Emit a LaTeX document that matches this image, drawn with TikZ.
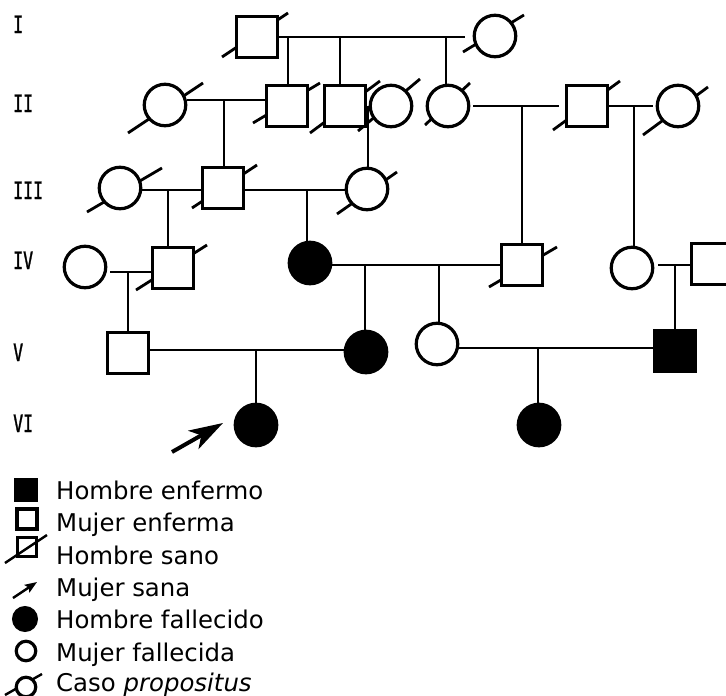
\documentclass[tikz,border=0pt]{standalone}
\usepackage{fontspec}
\setmainfont{DejaVu Sans}
\newfontfamily\labfont[FakeStretch=0.69,FakeBold=1.2]{DejaVu Sans Mono}
\usetikzlibrary{arrows.meta,backgrounds,calc}
\begin{document}
\begin{tikzpicture}[x=1pt,y=-1pt,
  male/.style={rectangle, draw, line width=3.2pt, fill=white, minimum size=41pt, inner sep=0pt},
  female/.style={circle, draw, line width=3.2pt, fill=white, minimum size=41.5pt, inner sep=0pt},
  aff/.style={fill=black},
  link/.style={line width=2.8pt},
  slash/.style={line width=2.8pt},
  gen/.style={font=\labfont\fontsize{24}{24}\selectfont, anchor=base west, inner sep=0pt},
  leg/.style={font=\fontsize{24.4}{28}\selectfont, anchor=base west, inner sep=0pt},
]
\useasboundingbox (0,0) rectangle (726,696);
\clip (0,0) rectangle (726,696);

% generation labels
\node[gen] (gI)   at (13,33)  {I};
\node[gen] (gII)  at (13,112) {II};
\node[gen] (gIII) at (13,199) {III};
\node[gen] (gIV)  at (13,269) {IV};
\node[gen] (gV)   at (13,361) {V};
\node[gen] (gVI)  at (13,432) {VI};

% individuals
\node[male]   (I1)  at (257,37)  {};
\node[female] (I2)  at (495,36)  {};

\node[female] (II1) at (165,105) {};
\node[male]   (II3) at (287,106) {};
\node[male]   (II4) at (345,106) {};
\node[female] (II5) at (391,106) {};
\node[female] (II6) at (448,106) {};
\node[male]   (II7) at (587,106) {};
\node[female] (II8) at (678,106) {};

\node[female] (III1) at (120,188) {};
\node[male]   (III2) at (223,188) {};
\node[female] (III3) at (367,189) {};

\node[female]     (IV1) at (85,267)  {};
\node[male]       (IV2) at (173,268) {};
\node[female,aff] (IV3) at (310,263) {};
\node[male]       (IV4) at (522,265) {};
\node[female]     (IV5) at (632,268) {};
\node[male]       (IV6) at (712,264) {};

\node[male]       (V1) at (128,353) {};
\node[female,aff] (V2) at (366,352) {};
\node[female]     (V3) at (437,344) {};
\node[male,aff]   (V5) at (675,351) {};

\node[female,aff] (VI1) at (256,425) {};
\node[female,aff] (VI2) at (539,425) {};

% deceased slashes (behind the symbols)
\begin{scope}[on background layer]
  \draw[slash] ($(I1)+(-35,20)$) -- ($(I1)+(31,-24)$);
  \draw[slash] ($(I2)+(-32,16)$) -- ($(I2)+(29,-21)$);
  \draw[slash] ($(II1)+(-37,28)$) -- ($(II1)+(38,-22)$);
  \draw[slash] ($(II3)+(-34,17)$) -- ($(II3)+(33,-23)$);
  \draw[slash] ($(II4)+(-35,27)$) -- ($(II4)+(35,-25)$);
  \draw[slash] ($(II5)+(-33,25)$) -- ($(II5)+(29,-27)$);
  \draw[slash] ($(II6)+(-23,19)$) -- ($(II6)+(22,-23)$);
  \draw[slash] ($(II7)+(-34,24)$) -- ($(II7)+(33,-25)$);
  \draw[slash] ($(II8)+(-35,29)$) -- ($(II8)+(30,-19)$);
  \draw[slash] ($(III1)+(-33,24)$) -- ($(III1)+(42,-20)$);
  \draw[slash] ($(III2)+(-31,20)$) -- ($(III2)+(34,-23)$);
  \draw[slash] ($(III3)+(-30,25)$) -- ($(III3)+(30,-17)$);
  \draw[slash] ($(IV2)+(-37,22)$) -- ($(IV2)+(34,-23)$);
  \draw[slash] ($(IV4)+(-33,22)$) -- ($(IV4)+(35,-18)$);
\end{scope}

% generation I family
\draw[link, shorten >=8pt] (I1.east) -- (I1.east -| I2.west);
\draw[link] ([xshift=1pt]II3.north |- I1.east) -- ([xshift=1pt]II3.north);
\draw[link] ([xshift=-5pt]II4.north |- I1.east) -- ([xshift=-5pt]II4.north);
\draw[link] ([xshift=-2pt]II6.north |- I1.east) -- ([xshift=-2pt]II6.north);

% generation II couples
\coordinate (m2a) at (224,100);
\draw[link] (II1.east |- m2a) -- (II3.west |- m2a);
\draw[link] (m2a) -- (m2a |- III2.north);
\coordinate (m2b) at (368,106);
\draw[link] (m2b) -- (m2b |- III3.north);
\draw[link, shorten <=3pt, shorten >=6pt] (II6.east) -- (II7.west);
\coordinate (m2c) at (522,106);
\draw[link] (m2c) -- (m2c |- IV4.north);
\draw[link, shorten >=3pt] (II7.east) -- (II8.west);
\coordinate (m2d) at (634,106);
\draw[link] (m2d) -- (m2d |- IV5.north);

% generation III couples
\coordinate (m3a) at (168,190);
\draw[link] (III1.east |- m3a) -- (III2.west |- m3a);
\draw[link] (m3a) -- (m3a |- IV2.north);
\coordinate (m3b) at (307,190);
\draw[link] (III2.east |- m3b) -- (III3.west |- m3b);
\draw[link] (m3b) -- (m3b |- IV3.north);

% generation IV couples
\coordinate (m4a) at (128,272);
\draw[link, shorten <=3pt] (IV1.east |- m4a) -- (IV2.west |- m4a);
\draw[link] (m4a) -- (m4a |- V1.north);
\coordinate (m4b) at (365,265);
\coordinate (m4c) at (439,265);
\draw[link] (IV3.east |- m4b) -- (IV4.west |- m4b);
\draw[link] (m4b) -- (m4b |- V2.north);
\draw[link] (m4c) -- (m4c |- V3.north);
\coordinate (m4d) at (675,265);
\draw[link, shorten <=4pt] (IV5.east |- m4d) -- (IV6.west |- m4d);
\draw[link] (m4d) -- (m4d |- V5.north);

% generation V couples
\coordinate (m5a) at (256,350);
\draw[link] (V1.east |- m5a) -- (V2.west |- m5a);
\draw[link] (m5a) -- (m5a |- VI1.north);
\coordinate (m5b) at (538,348);
\draw[link] (V3.east |- m5b) -- (V5.west |- m5b);
\draw[link] (m5b) -- (m5b |- VI2.north);

% propositus arrow
\coordinate (pa) at (172,452);
\coordinate (pb) at (223,423);
\draw[line width=4pt, -{Stealth[length=34pt,width=21pt,inset=9pt]}] (pa) -- (pb);

% legend
\node[rectangle, draw, fill=black, line width=2pt, minimum size=22pt, inner sep=0pt] (L1) at (26,490) {};
\node[rectangle, draw, fill=white, line width=3.2pt, minimum size=20pt, inner sep=0pt] (L2) at (27,519) {};
\node[rectangle, draw, fill=white, line width=3.2pt, minimum size=19pt, inner sep=0pt] (L3) at (27,547) {};
\draw[line width=2.4pt] ($(L3)+(-22,16)$) -- ($(L3)+(20,-12)$);
\coordinate (L4a) at (13,598);
\coordinate (L4b) at (37,582);
\draw[line width=2.4pt, -{Stealth[length=12pt,width=9pt,inset=2pt]}] (L4a) -- (L4b);
\node[circle, draw, fill=black, line width=2pt, minimum size=24pt, inner sep=0pt] (L5) at (25,619) {};
\node[circle, draw, fill=white, line width=3.2pt, minimum size=19.5pt, inner sep=0pt] (L6) at (26,651) {};
\node[circle, draw, fill=white, line width=3.2pt, minimum size=19.5pt, inner sep=0pt] (L7) at (26,687) {};
\begin{scope}[on background layer]
  \draw[line width=2.4pt] ($(L7)+(-21,8)$) -- ($(L7)+(16,-13)$);
\end{scope}

\node[leg] (t1) at (56,499) {Hombre enfermo};
\node[leg] (t2) at (56,531) {Mujer enferma};
\node[leg] (t3) at (56,564) {Hombre sano};
\node[leg] (t4) at (56,596) {Mujer sana};
\node[leg] (t5) at (56,628) {Hombre fallecido};
\node[leg] (t6) at (56,661) {Mujer fallecida};
\node[leg] (t7) at (56,691) {Caso \textit{propositus}};
\end{tikzpicture}
\end{document}
